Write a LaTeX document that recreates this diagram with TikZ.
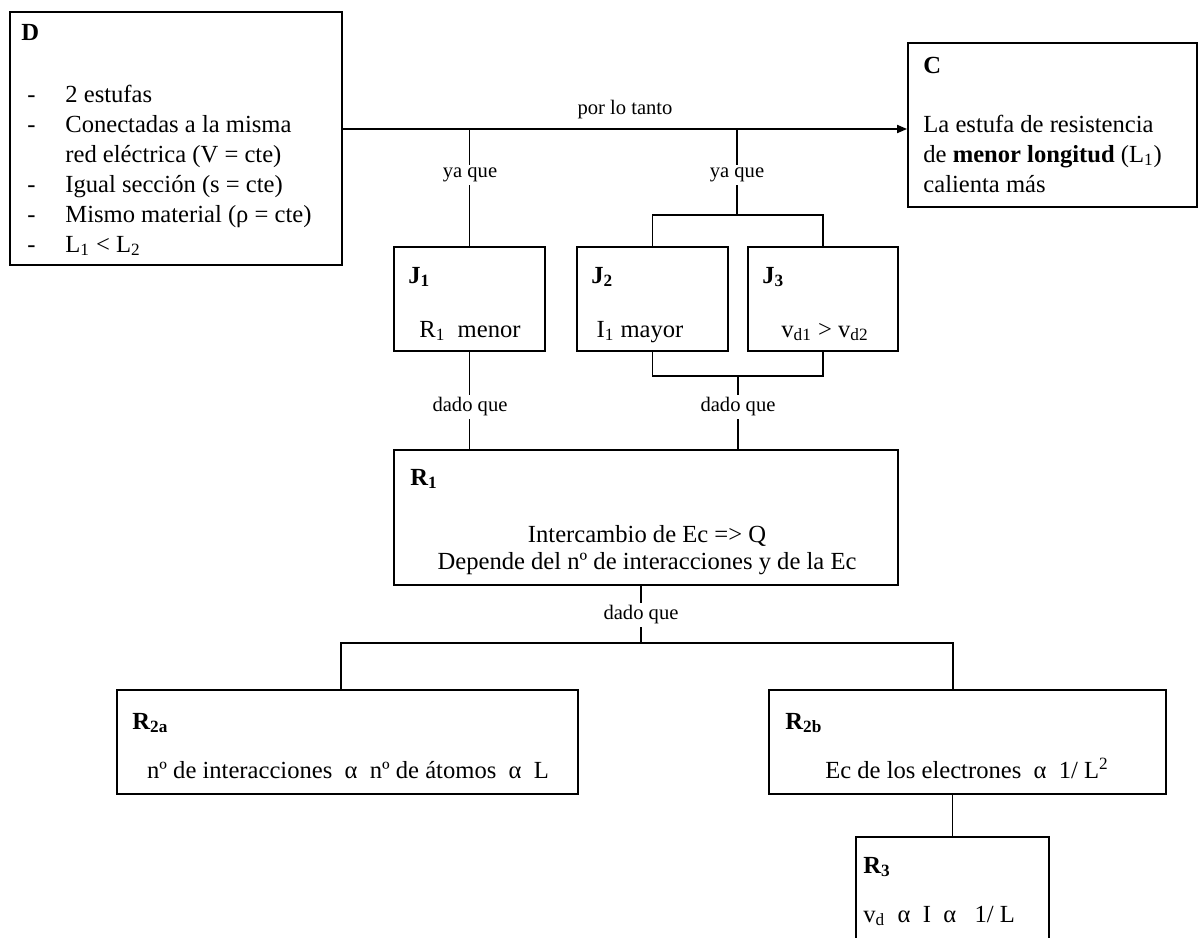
\documentclass[tikz,border=0pt]{standalone}
\usepackage{fontspec}
\setmainfont{Liberation Serif}
\usetikzlibrary{positioning,fit,arrows.meta}

\tikzset{
	box/.style = {draw, line width=0.9pt, inner sep=0pt},
	head/.style = {font=\fontsize{12.3}{15}\selectfont\bfseries, inner sep=0pt, anchor=base west},
	body/.style = {font=\fontsize{12.3}{15}\selectfont, inner sep=0pt},
	link/.style = {line width=0.9pt},
	tag/.style = {font=\fontsize{10.3}{12}\selectfont, fill=white, inner sep=1.5pt}
}

\begin{document}
\begin{tikzpicture}[x=0.5pt, y=-0.5pt]
	\clip[use as bounding box] (0,0) rectangle (1201,938);

	\node[box, fit={(10,12) (342,265)}] (D) {};
	\node[box, fit={(908,43) (1197,207)}] (C) {};
	\node[box, fit={(394,247) (545,351)}] (J1) {};
	\node[box, fit={(577,247) (728,351)}] (J2) {};
	\node[box, fit={(748,247) (898,351)}] (J3) {};
	\node[box, fit={(394,450) (898,585)}] (R1) {};
	\node[box, fit={(117,690) (578,794)}] (R2a) {};
	\node[box, fit={(769,690) (1166,794)}] (R2b) {};
	\node[box, fit={(856,837) (1049,960)}] (R3) {};

	\node[head] (hD) at (21,40) {D};
	\node[body, anchor=base west] (tD) at (27,102) {\begin{tabular}[t]{@{}p{19pt}@{}l@{}}
		- & 2 estufas\\
		- & Conectadas a la misma\\
		  & red eléctrica (V = cte)\\
		- & Igual sección (s = cte)\\
		- & Mismo material (ρ = cte)\\
		- & L\textsubscript{1} < L\textsubscript{2}
	\end{tabular}};

	\node[head] (hC) at (923,73) {C};
	\node[body, anchor=base west] (tC) at (923,132) {\begin{tabular}[t]{@{}l@{}}
		La estufa de resistencia\\
		de \textbf{menor longitud} (L\textsubscript{1})\\
		calienta más
	\end{tabular}};

	\node[head] (hJ1) at (408,283) {J\textsubscript{1}};
	\node[body, anchor=base] (tJ1) at (470,337) {R\textsubscript{1}\ \ menor};
	\node[head] (hJ2) at (591,283) {J\textsubscript{2}};
	\node[body, anchor=base] (tJ2) at (640,337) {I\textsubscript{1} mayor};
	\node[head] (hJ3) at (762,283) {J\textsubscript{3}};
	\node[body, anchor=base] (tJ3) at (825,337) {v\textsubscript{d1} > v\textsubscript{d2}};

	\node[head] (hR1) at (410,485) {R\textsubscript{1}};
	\node[body, anchor=base, font=\fontsize{12.3}{13.5}\selectfont] (tR1) at (647,542) {\begin{tabular}[t]{@{}c@{}}
		Intercambio de Ec => Q\\
		Depende del nº de interacciones y de la Ec
	\end{tabular}};

	\node[head] (hR2a) at (132,729) {R\textsubscript{2a}};
	\node[body, anchor=base] (tR2a) at (348,778) {nº de interacciones\ \ α\ \ nº de átomos\ \ α\ \ L};
	\node[head] (hR2b) at (785,729) {R\textsubscript{2b}};
	\node[body, anchor=base] (tR2b) at (967,778) {Ec de los electrones\ \ α\ \ 1/ L\textsuperscript{2}};
	\node[head] (hR3) at (863,873) {R\textsubscript{3}};
	\node[body, anchor=base west] (tR3) at (863,922) {v\textsubscript{d}\ \ α\ \ I\ \ α\ \ \ 1/ L};

	\coordinate (main) at (0,129);
	\coordinate (split) at (737,215);
	\coordinate (merge) at (738,376);
	\coordinate (fork) at (641,643);
	\coordinate (forkL) at (341,643);
	\coordinate (forkR) at (953,643);

	\draw[link, -{Triangle[length=5pt,width=4pt]}] (D.east |- main) -- (C.west |- main);
	\draw[link] (J1.north) -- (J1.north |- main);
	\draw[link] (split |- main) -- (split);
	\draw[link] (J2.north) |- (split) -| (J3.north);
	\draw[link] (J1.south) -- (J1.south |- R1.north);
	\draw[link] (J2.south) |- (merge) -| (J3.south);
	\draw[link] (merge) -- (merge |- R1.north);
	\draw[link] (fork |- R1.south) -- (fork);
	\draw[link] (R2a.north -| forkL) -- (forkL) -- (forkR) -- (R2b.north -| forkR);
	\draw[link] (R2b.south -| R3.north) -- (R3.north);

	\node[tag, fill=none] (plt) at (625,110) {por lo tanto};
	\node[tag] (ya1) at (470,175) {ya que};
	\node[tag] (ya2) at (737,175) {ya que};
	\node[tag] (dq1) at (470,407) {dado que};
	\node[tag] (dq2) at (738,407) {dado que};
	\node[tag] (dq3) at (641,615) {dado que};
\end{tikzpicture}
\end{document}
